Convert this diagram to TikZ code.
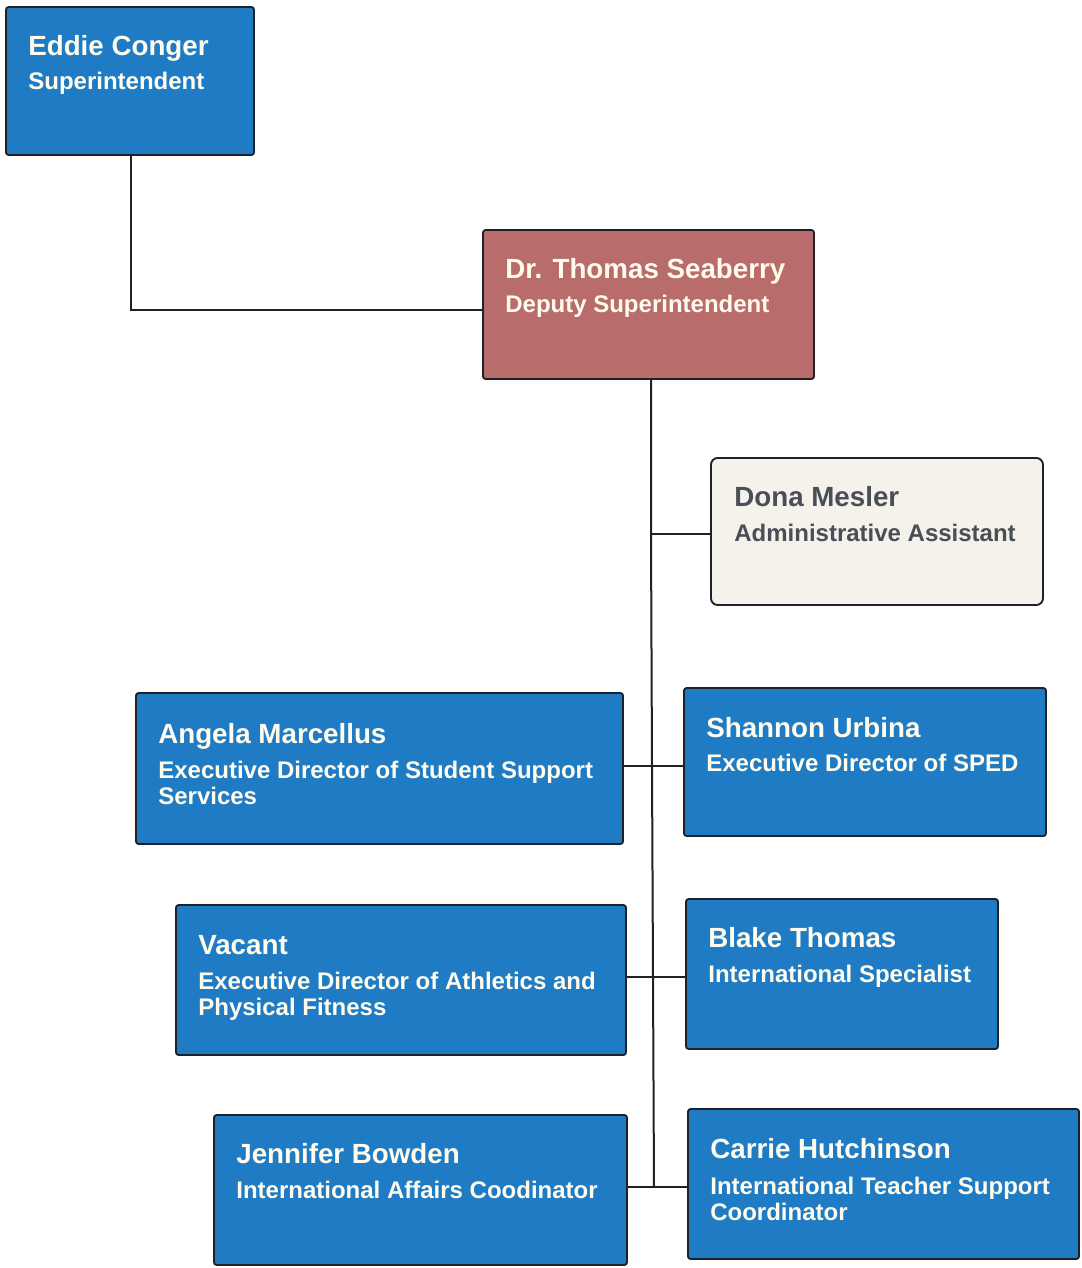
\documentclass[tikz,border=0pt]{standalone}
\usepackage{fontspec}
\setmainfont{Liberation Sans}
\usetikzlibrary{fit,calc}
\definecolor{boxblue}{HTML}{1F7CC4}
\definecolor{boxred}{HTML}{B96C6C}
\definecolor{boxcream}{HTML}{F4F2EA}
\definecolor{txtlight}{HTML}{FFFCEE}
\definecolor{txtdark}{HTML}{4A4F57}
\definecolor{edge}{HTML}{1E2226}
\begin{document}
\begin{tikzpicture}[x=0.75pt,y=-0.75pt,
  base/.style={draw=edge,line width=1.4pt,inner sep=0pt,rounded corners=2pt},
  bluebox/.style={base,fill=boxblue},
  redbox/.style={base,fill=boxred},
  creambox/.style={base,fill=boxcream,rounded corners=5pt},
  nametxt/.style={anchor=base west,inner sep=0pt,font=\bfseries\fontsize{20.8}{22}\selectfont,text=txtlight},
  titletxt/.style={anchor=base west,inner sep=0pt,align=left,font=\bfseries\fontsize{18}{19.5}\selectfont,text=txtlight},
  link/.style={draw=edge,line width=1.5pt}]
\useasboundingbox (0,0) rectangle (1082,1268);
\fill[white] (0,0) rectangle (1082,1268);

% boxes
\node[bluebox,fit={(6,7) (254,155)}] (eddie) {};
\node[redbox,fit={(483,230) (814,379)}] (thomas) {};
\node[creambox,fit={(711,458) (1043,605)}] (dona) {};
\node[bluebox,fit={(136,693) (623,844)}] (angela) {};
\node[bluebox,fit={(684,688) (1046,836)}] (shannon) {};
\node[bluebox,fit={(176,905) (626,1055)}] (vacant) {};
\node[bluebox,fit={(686,899) (998,1049)}] (blake) {};
\node[bluebox,fit={(214,1115) (627,1265)}] (jennifer) {};
\node[bluebox,fit={(688,1109) (1079,1259)}] (carrie) {};

% texts (base anchor of a two-line node is its last line)
\node[nametxt] (eddieN) at ($(eddie.north west)+(23,49)$) {Eddie Conger};
\node[titletxt] (eddieT) at ($(eddie.north west)+(23,83)$) {Superintendent};
\node[nametxt] (thomasN) at ($(thomas.north west)+(23,49)$) {Dr. Thomas Seaberry};
\node[titletxt] (thomasT) at ($(thomas.north west)+(23,83)$) {Deputy Superintendent};
\node[nametxt,text=txtdark] (donaN) at ($(dona.north west)+(24,49)$) {Dona Mesler};
\node[titletxt,text=txtdark] (donaT) at ($(dona.north west)+(24,84)$) {Administrative Assistant};
\node[nametxt] (angelaN) at ($(angela.north west)+(23,51)$) {Angela Marcellus};
\node[titletxt] (angelaT) at ($(angela.north west)+(23,112)$) {Executive Director of Student Support\\Services};
\node[nametxt] (shannonN) at ($(shannon.north west)+(23,50)$) {Shannon Urbina};
\node[titletxt] (shannonT) at ($(shannon.north west)+(23,84)$) {Executive Director of SPED};
\node[nametxt] (vacantN) at ($(vacant.north west)+(23,50)$) {Vacant};
\node[titletxt] (vacantT) at ($(vacant.north west)+(23,111)$) {Executive Director of Athletics and\\Physical Fitness};
\node[nametxt] (blakeN) at ($(blake.north west)+(23,49)$) {Blake Thomas};
\node[titletxt] (blakeT) at ($(blake.north west)+(23,84)$) {International Specialist};
\node[nametxt] (jenniferN) at ($(jennifer.north west)+(23,49)$) {Jennifer Bowden};
\node[titletxt] (jenniferT) at ($(jennifer.north west)+(23,84)$) {International Affairs Coodinator};
\node[nametxt] (carrieN) at ($(carrie.north west)+(23,50)$) {Carrie Hutchinson};
\node[titletxt] (carrieT) at ($(carrie.north west)+(23,112)$) {International Teacher Support\\Coordinator};

% connectors
\coordinate (eddieDrop) at (131,155);
\coordinate (trunkTop) at (651,379);
\coordinate (jDona) at (651,534);
\coordinate (jRow1) at (652,766);
\coordinate (jRow2) at (653,977);
\coordinate (jRow3) at (654,1187);
\draw[link] (eddieDrop) |- (thomas.west |- 0,310);
\draw[link] (trunkTop) -- (jDona) -- (jRow1) -- (jRow2) -- (jRow3);
\draw[link] (jDona) -- (dona.west |- jDona);
\draw[link] (angela.east |- jRow1) -- (shannon.west |- jRow1);
\draw[link] (vacant.east |- jRow2) -- (blake.west |- jRow2);
\draw[link] (jennifer.east |- jRow3) -- (carrie.west |- jRow3);
\end{tikzpicture}
\end{document}
